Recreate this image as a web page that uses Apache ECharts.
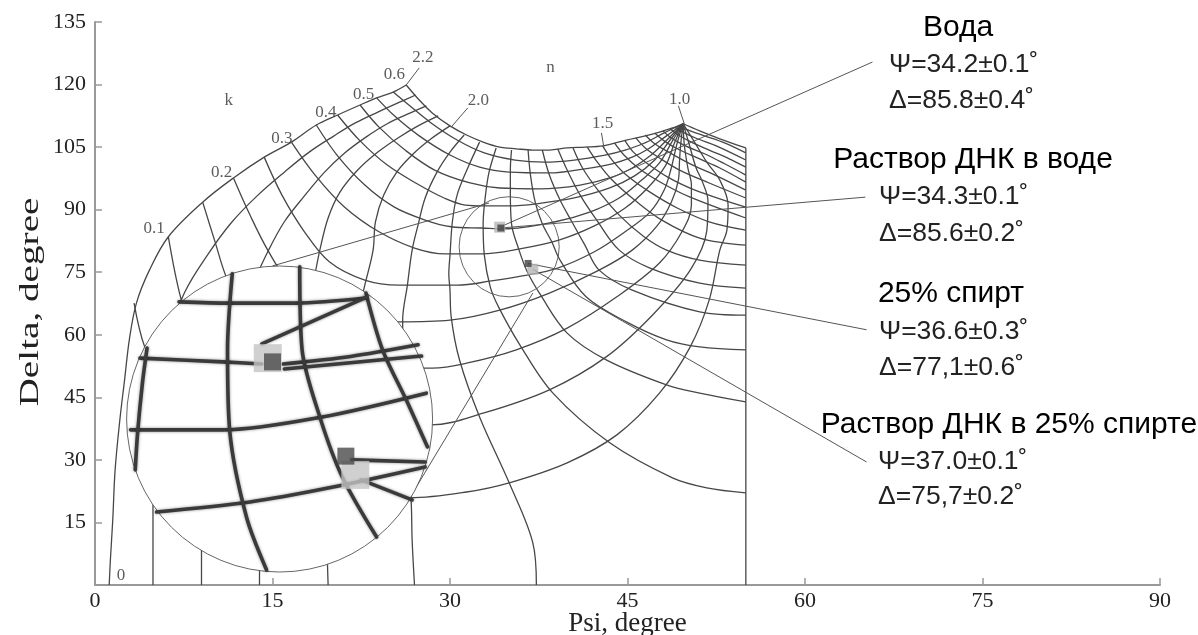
<!DOCTYPE html>
<html>
<head>
<meta charset="utf-8">
<script src="https://cdn.jsdelivr.net/npm/echarts@6/dist/echarts.min.js"></script>
<style>
  html, body { margin: 0; padding: 0; background: #fff; }
  #chart { width: 1198px; height: 635px; }
</style>
</head>
<body>
<div id="chart"></div>
<script>
// constant-n lines of the nomogram, [Psi, Delta]
const n220 = [[26.3,119.9],[25.2,118.2],[23.8,116.8],[22.4,115.1],[20.5,112.7],[18.7,110.3],[16.6,106.2],[14.3,102.6],[11.7,97.6],[9.1,91.8],[6.2,83.5],[4.6,75.5],[3.5,67.6],[2.9,58.8],[2.5,49.2],[2.1,39.6],[1.7,27.6],[1.5,15.6],[1.3,6.0],[1.2,0]]
const n215 = [[27.1,117.5],[25.6,115.6],[23.9,113.4],[22.0,110.8],[20.2,107.7],[18.1,103.8],[16.0,99.0],[13.7,93.3],[11.5,86.8],[9.5,79.1],[7.6,70.3],[5.9,57.6],[5.0,39.6],[4.9,20.4],[4.9,0]]
const n210 = [[28.0,114.9],[26.4,112.9],[24.7,110.6],[22.9,107.4],[21.1,103.6],[19.4,99.0],[17.7,93.3],[16.0,87.1],[14.6,79.9],[13.1,70.7],[10.9,56.4],[9.5,37.2],[9.0,20.4],[9.0,0]]
const n205 = [[29.0,112.5],[27.3,110.1],[25.6,107.2],[23.9,103.8],[22.2,99.5],[20.7,94.2],[19.7,88.0],[19.0,80.3],[18.3,70.7],[16.9,56.4],[15.2,39.6],[14.1,22.8],[13.9,0]]
const n200 = [[30.0,110.1],[28.4,107.0],[26.9,103.4],[25.5,99.0],[24.4,93.5],[23.7,87.1],[23.5,80.3],[22.8,71.9],[21.9,61.2],[20.5,44.4],[19.7,27.6],[19.6,13.2],[19.7,0]]
const n195 = [[31.2,107.9],[30.0,103.8],[28.9,99.0],[27.9,92.8],[27.3,86.3],[26.8,80.3],[26.4,71.9],[26.0,63.5],[26.0,49.2],[26.2,34.8],[26.7,20.9],[26.8,10.8],[27.0,0]]
const n190 = [[32.5,106.2],[31.5,100.0],[30.6,93.5],[30.2,87.1],[30.0,79.1],[29.9,74.6],[30.0,70.7],[30.1,64.3],[30.8,54.0],[32.5,40.3],[35.0,24.5],[37.0,10.1],[37.3,0]]
const n185 = [[33.9,104.8],[33.3,99.0],[33.0,93.5],[32.8,86.6],[32.9,79.1],[33.4,71.5],[34.1,66.7],[35.9,57.6],[38.7,46.0],[43.5,34.1],[48.8,25.7],[51.7,23.3],[55,22.1]]
const n180 = [[35.2,104.3],[35.1,99.5],[35.1,94.2],[35.2,86.6],[35.8,80.6],[36.5,75.3],[37.6,69.8],[39.9,60.4],[43.2,54.0],[48.3,48.0],[51.1,46.0],[55,43.9]]
const n175 = [[36.6,104.3],[36.8,98.3],[37.2,91.8],[37.8,86.6],[38.6,82.3],[39.3,77.9],[41.5,69.1],[44.9,63.1],[48.3,58.8],[51.1,57.1],[55,56.4]]
const n170 = [[37.8,104.3],[38.4,98.3],[39.3,92.3],[40.3,87.1],[41.4,81.5],[42.6,75.5],[45.4,70.7],[51.1,65.5],[55,64.7]]
const n165 = [[39.1,104.6],[39.9,99.5],[41.0,93.5],[42.4,87.5],[44.3,80.3],[46.9,76.0],[51.1,72.4],[55,71.2]]
const n160 = [[40.4,104.8],[41.2,100.0],[42.5,94.7],[44.3,88.7],[46.4,83.5],[48.3,80.3],[51.1,77.9],[55,76.7]]
const n155 = [[41.6,105.0],[42.5,101.2],[43.7,97.1],[45.6,92.3],[47.9,87.5],[51.1,83.2],[55,81.5]]
const n150 = [[42.9,105.3],[43.7,101.9],[44.9,98.3],[46.9,94.2],[49.2,90.4],[51.9,87.1],[55,85.1]]
const n145 = [[43.9,106.0],[44.7,103.1],[46.0,99.8],[47.9,96.4],[50.3,93.0],[55,88.0]]
const n140 = [[44.8,106.5],[45.5,103.8],[46.7,101.0],[48.4,97.8],[50.7,94.7],[55,90.6]]
const n135 = [[45.7,107.2],[46.5,104.8],[47.7,102.4],[49.4,99.5],[51.9,96.4],[55,92.8]]
const n130 = [[46.5,107.9],[47.3,105.8],[48.6,103.6],[50.3,101.0],[52.4,98.3],[55,94.7]]
const n125 = [[47.3,108.4],[48.1,106.5],[49.2,104.6],[50.9,102.4],[52.8,100.0],[55,96.6]]
const n120 = [[48.0,108.9],[48.7,107.2],[49.9,105.3],[51.5,103.4],[53.2,101.0],[55,98.3]]
const n115 = [[48.6,109.4],[49.3,107.9],[50.4,106.2],[51.9,104.3],[53.6,102.2],[55,100.2]]
const n110 = [[49.0,109.8],[49.8,108.4],[50.9,107.0],[52.5,105.3],[55,101.9]]
const n105 = [[49.3,110.1],[50.3,108.9],[51.5,107.7],[53.2,106.0],[55,103.6]]

// constant-k lines, all meeting at the n = 1.0 corner
const k060 = [[26.3,119.9],[27.4,116.3],[28.5,113.2],[30.0,110.1],[31.4,107.9],[32.8,106.2],[34.2,105.0],[35.6,104.6],[37.0,104.3],[38.4,104.3],[39.9,104.8],[41.4,105.0],[42.9,105.3],[44.9,106.7],[46.5,107.7],[47.7,108.6],[48.8,109.6],[49.7,110.6]]
const k055 = [[25.2,118.2],[26.6,114.9],[28.4,110.8],[30.6,106.7],[32.9,103.6],[35.5,101.9],[38.0,101.4],[40.5,101.9],[43.1,103.1],[44.8,104.3],[46.3,105.8],[48.1,108.4],[49.7,110.6]]
const k050 = [[23.8,116.8],[25.3,112.5],[27.4,107.7],[30.0,103.1],[32.5,100.2],[35.0,99.0],[38.4,98.8],[41.4,99.8],[43.7,101.0],[45.4,102.6],[46.6,104.3],[48.3,107.7],[49.7,110.6]]
const k045 = [[22.4,115.1],[24.0,109.8],[26.2,104.3],[28.7,99.5],[31.7,96.4],[34.2,95.2],[37.6,95.0],[41.0,95.9],[43.7,97.8],[45.4,100.0],[47.0,103.1],[48.5,107.2],[49.7,110.6]]
const k040 = [[20.5,112.7],[22.4,106.5],[24.7,100.7],[27.4,95.9],[29.5,92.8],[31.3,91.1],[32.9,90.9],[35.0,90.9],[37.3,91.4],[40.5,92.8],[43.5,95.2],[45.6,98.1],[47.3,101.9],[48.6,106.7],[49.7,110.6]]
const k035 = [[18.7,110.3],[20.5,102.9],[22.8,95.9],[25.3,90.6],[27.9,87.5],[30.1,85.9],[32.7,85.6],[34.6,85.4],[38.9,87.1],[41.8,89.4],[44.3,92.8],[46.2,97.1],[47.7,101.2],[48.8,106.5],[49.7,110.6]]
const k030 = [[16.6,106.2],[18.6,98.3],[21.1,90.6],[24.0,84.7],[27.0,80.8],[29.6,79.4],[32.7,79.4],[35.9,80.6],[39.2,82.7],[42.2,86.1],[44.8,90.4],[46.7,95.2],[48.2,100.5],[49.0,106.2],[49.7,110.6]]
const k025 = [[14.3,102.6],[15.8,93.5],[17.7,84.7],[19.8,77.5],[22.8,73.1],[25.7,71.9],[30.6,71.9],[33.5,72.9],[36.1,74.1],[39.1,76.0],[42.2,79.9],[44.8,84.7],[46.9,89.4],[48.1,94.7],[48.7,100.0],[49.2,106.0],[49.7,110.6]]
const k020 = [[11.7,97.6],[13.1,88.7],[14.6,80.3],[16.4,72.7],[19.8,65.9],[23.2,63.5],[25.7,63.1],[30.0,63.5],[34.2,65.9],[38.4,70.0],[42.6,75.5],[45.4,80.3],[47.5,86.1],[48.7,91.8],[49.3,97.1],[49.4,101.9],[49.5,105.8],[49.7,110.6]]
const k015 = [[9.1,91.8],[10.1,82.7],[11.2,73.1],[13.1,63.5],[16.4,56.4],[20.7,52.8],[24.9,52.0],[28.5,52.0],[31.4,53.2],[35.6,56.4],[39.9,61.6],[44.1,69.1],[47.7,77.2],[49.6,84.7],[50.4,91.1],[50.4,95.9],[50.1,100.0],[49.8,105.5],[49.7,110.6]]
const k010 = [[6.2,83.5],[7.3,68.3],[8.8,56.4],[12.2,46.8],[17.3,40.8],[23.2,38.4],[28.4,38.4],[32.8,41.2],[38.4,46.8],[43.2,54.7],[47.1,64.7],[50.3,75.5],[51.7,84.9],[51.8,92.1],[51.3,96.9],[50.8,100.0],[50.2,105.8],[49.7,110.6]]
const k005 = [[3.3,67.6],[4.2,57.1],[6.3,44.4],[10.5,32.4],[16.4,25.2],[22.4,21.6],[26.6,20.9],[31.4,22.3],[35.0,24.5],[39.9,29.3],[44.1,36.0],[47.7,46.0],[50.3,57.1],[51.9,68.3],[52.8,80.3],[53.4,85.1],[53.5,91.1],[52.8,97.1],[51.7,101.4],[50.6,106.5],[49.7,110.6]]
const k000 = [[49.7,110.6],[51.1,108.9],[52.8,107.0],[55,104.8]]
const rightEdge = [[55,0],[55,104.8]]

// measured points
const sampleNames = ['Вода', 'Раствор ДНК в воде', '25% спирт', 'Раствор ДНК в 25% спирте']
const samplePsi = [34.2, 34.3, 36.6, 37.0]
const sampleDelta = [85.8, 85.6, 77.1, 75.7]
const samplePsiErr = ['0.1', '0.1', '0.3', '0.1']
const sampleDeltaText = ['85.8±0.4', '85.6±0.2', '77,1±0.6', '75,7±0.2']
const sampleLeaderEnd = [[65.7,125.4],[65.1,93.0],[65.2,61.2],[65.2,29.5]]

// magnifier: small circle, inset circle [psi, delta, psi-radius]
const smallCircle = [35.0, 81.1, 4.23]
const insetCircle = [15.6, 39.8, 12.93]
const tangentA = [[15.0,76.5],[33.3,91.6]]
const tangentB = [[26.6,20.9],[37.0,70.0]]

// lines seen inside the inset
const insetH1 = [[7.1,67.9],[11.4,67.6],[17.0,67.6],[22.9,68.8]]
const insetH2 = [[3.8,54.4],[10.8,53.5],[14.1,53.0]]
const insetH2r = [[15.9,53.0],[21.6,54.8],[27.3,57.6]]
const insetH3 = [[3.0,37.2],[10.8,37.2],[19.2,40.3],[28.0,46.0]]
const insetH4 = [[5.2,17.5],[13.1,19.9],[19.8,23.3],[27.9,28.3]]
const insetV1 = [[4.4,56.8],[4.0,48.2],[3.6,36.5],[3.4,27.6]]
const insetV2 = [[11.6,74.6],[11.2,56.4],[11.4,36.5],[12.8,16.3],[14.5,3.6]]
const insetV3 = [[17.3,76.3],[17.5,56.4],[19.0,40.3],[20.9,25.9],[23.8,11.5]]
const insetV4 = [[22.9,70.0],[24.3,56.4],[26.3,44.4],[28.1,33.1]]
const insetLeadA = [[14.1,57.8],[23.0,69.1]]
const insetLeadB = [[16.0,51.8],[27.6,54.9]]
const insetLeadC = [[21.7,30.0],[27.9,29.5]]
const insetLeadD = [[22.5,25.2],[26.8,20.4]]
const insetLight = [[14.6,54.4],[22.0,26.4]]
const insetDark = [[15.0,53.5],[21.2,30.9]]

// grid labels
const kLabelText = ['k', '0.1', '0.2', '0.3', '0.4', '0.5', '0.6', '0']
const kLabelPos = [[11.3,116.1],[5.0,85.4],[10.7,98.8],[15.8,107.0],[19.5,113.4],[22.7,117.7],[25.3,122.3],[2.2,2.2]]
const nLabelText = ['n', '2.2', '2.0', '1.5', '1.0']
const nLabelPos = [[38.5,124.0],[27.7,126.4],[32.4,116.1],[42.9,110.6],[49.4,116.3]]
const nLeaders = [
  [[26.3,119.9],[27.4,124.0]],
  [[30.1,109.8],[31.5,114.4]],
  [[43.0,105.0],[42.8,108.4]],
  [[49.8,110.6],[49.3,114.9]],
]

const nLines = [n220, n215, n210, n205, n200, n195, n190, n185, n180, n175, n170, n165, n160, n155, n150, n145, n140, n135, n130, n125, n120, n115, n110, n105]
const kLines = [k060, k055, k050, k045, k040, k035, k030, k025, k020, k015, k010, k005, k000]

const lineColor = '#474747'

function gridLine(data) {
  return {
    type: 'line',
    data: data,
    smooth: 0.35,
    showSymbol: false,
    silent: true,
    z: 2,
    lineStyle: { color: lineColor, width: 1.3 },
  }
}

function thinLine(data, z) {
  return {
    type: 'line',
    data: data,
    showSymbol: false,
    silent: true,
    z: z,
    lineStyle: { color: '#555', width: 1 },
  }
}

function insetLine(data) {
  return {
    type: 'line',
    data: data,
    smooth: 0.3,
    showSymbol: false,
    silent: true,
    z: 5,
    lineStyle: {
      color: '#3a3a3a',
      width: 3.6,
      shadowBlur: 3,
      shadowColor: 'rgba(0,0,0,0.45)',
      cap: 'round',
    },
  }
}

function circleSeries(circle, fill, z) {
  return {
    type: 'custom',
    silent: true,
    z: z,
    data: [circle],
    renderItem(params, api) {
      const c = api.coord([api.value(0), api.value(1)])
      const r = api.size([api.value(2), 0])[0]
      return {
        type: 'circle',
        shape: { cx: c[0], cy: c[1], r: r },
        style: { fill: fill, stroke: '#555', lineWidth: 0.9 },
      }
    },
  }
}

function labelSeries(pos, text) {
  return {
    type: 'scatter',
    silent: true,
    z: 6,
    symbolSize: 1,
    itemStyle: { color: 'transparent' },
    data: pos.map((p, i) => ({ value: p, name: text[i] })),
    label: {
      show: true,
      position: 'inside',
      formatter: '{b}',
      color: '#333',
      fontFamily: 'Liberation Serif',
      fontSize: 17,
    },
  }
}

const series = []
nLines.forEach(d => series.push(gridLine(d)))
kLines.forEach(d => series.push(gridLine(d)))
series.push(gridLine(rightEdge))
nLeaders.forEach(d => series.push(thinLine(d, 2)))
samplePsi.forEach((p, i) => series.push(thinLine([[p, sampleDelta[i]], sampleLeaderEnd[i]], 2)))
series.push(thinLine(tangentA, 2))
series.push(thinLine(tangentB, 2))
series.push(circleSeries(smallCircle, 'none', 3))
series.push(circleSeries(insetCircle, '#fff', 4))
;[insetH1, insetH2, insetH2r, insetH3, insetH4, insetV1, insetV2, insetV3, insetV4,
  insetLeadA, insetLeadB, insetLeadC, insetLeadD].forEach(d => series.push(insetLine(d)))

// markers in the main grid
series.push({
  type: 'scatter', silent: true, z: 6, symbol: 'rect',
  data: [[samplePsi[0], sampleDelta[0]], [samplePsi[3], sampleDelta[3]]],
  symbolSize: 11,
  itemStyle: { color: '#b5b5b5' },
})
series.push({
  type: 'scatter', silent: true, z: 7, symbol: 'rect',
  data: [[samplePsi[1], sampleDelta[1]], [samplePsi[2], sampleDelta[2]]],
  symbolSize: 7,
  itemStyle: { color: '#404040' },
})
// markers in the inset
series.push({
  type: 'scatter', silent: true, z: 6, symbol: 'rect',
  data: insetLight,
  symbolSize: 28,
  itemStyle: { color: '#c4c4c4' },
})
series.push({
  type: 'scatter', silent: true, z: 7, symbol: 'rect',
  data: insetDark,
  symbolSize: 17,
  itemStyle: { color: '#4a4a4a' },
})
series.push(labelSeries(kLabelPos, kLabelText))
series.push(labelSeries(nLabelPos, nLabelText))

// notes on the right
const titleFont = '30px "Liberation Sans"'
const valueFont = '26.5px "Liberation Sans"'
const noteTitleX = [958, 973, 951, 1009]
const noteTitleY = [28, 160, 294, 425]
const noteValueX = [889, 879, 879, 878]
const noteValueY = [[65, 101], [197, 234], [332, 368], [462, 497]]

const graphic = []
sampleNames.forEach((name, i) => {
  graphic.push({
    type: 'text', x: noteTitleX[i], y: noteTitleY[i], silent: true,
    style: { text: name, font: titleFont, fill: '#000', align: 'center', verticalAlign: 'middle', textAlign: 'center', textVerticalAlign: 'middle' },
  })
  graphic.push({
    type: 'text', x: noteValueX[i], y: noteValueY[i][0], silent: true,
    style: { text: 'Ψ=' + samplePsi[i].toFixed(1) + '±' + samplePsiErr[i] + '˚', font: valueFont, fill: '#222', align: 'left', verticalAlign: 'middle', textAlign: 'left', textVerticalAlign: 'middle' },
  })
  graphic.push({
    type: 'text', x: noteValueX[i], y: noteValueY[i][1], silent: true,
    style: { text: 'Δ=' + sampleDeltaText[i] + '˚', font: valueFont, fill: '#222', align: 'left', verticalAlign: 'middle', textAlign: 'left', textVerticalAlign: 'middle' },
  })
})
graphic.push({
  type: 'text', x: 31, y: 302, rotation: Math.PI / 2, scaleX: 1.4, silent: true,
  style: { text: 'Delta, degree', font: '28px "Liberation Serif"', fill: '#222', align: 'center', verticalAlign: 'middle', textAlign: 'center', textVerticalAlign: 'middle' },
})

const chart = echarts.init(document.getElementById('chart'))
chart.setOption({
  animation: false,
  backgroundColor: '#fff',
  grid: { left: 95, right: 38, top: 22, bottom: 50, containLabel: false, outerBoundsMode: 'none' },
  xAxis: {
    type: 'value',
    min: 0,
    max: 90,
    interval: 15,
    name: 'Psi, degree',
    nameLocation: 'middle',
    nameGap: 25,
    nameMoveOverlap: false,
    nameTextStyle: { fontFamily: 'Liberation Serif', fontSize: 27, color: '#222' },
    axisLine: { lineStyle: { color: '#999', width: 2 } },
    axisTick: { inside: true, length: 7, lineStyle: { color: '#999', width: 1.5 } },
    axisLabel: { fontFamily: 'Liberation Serif', fontSize: 22, color: '#222', margin: 5 },
    splitLine: { show: false },
  },
  yAxis: {
    type: 'value',
    min: 0,
    max: 135,
    interval: 15,
    axisLine: { show: true, lineStyle: { color: '#999', width: 2 } },
    axisTick: { show: true, inside: true, length: 7, lineStyle: { color: '#999', width: 1.5 } },
    axisLabel: { fontFamily: 'Liberation Serif', fontSize: 22, color: '#222', margin: 9, showMinLabel: false },
    splitLine: { show: false },
  },
  series: series,
  graphic: graphic,
})
</script>
</body>
</html>
